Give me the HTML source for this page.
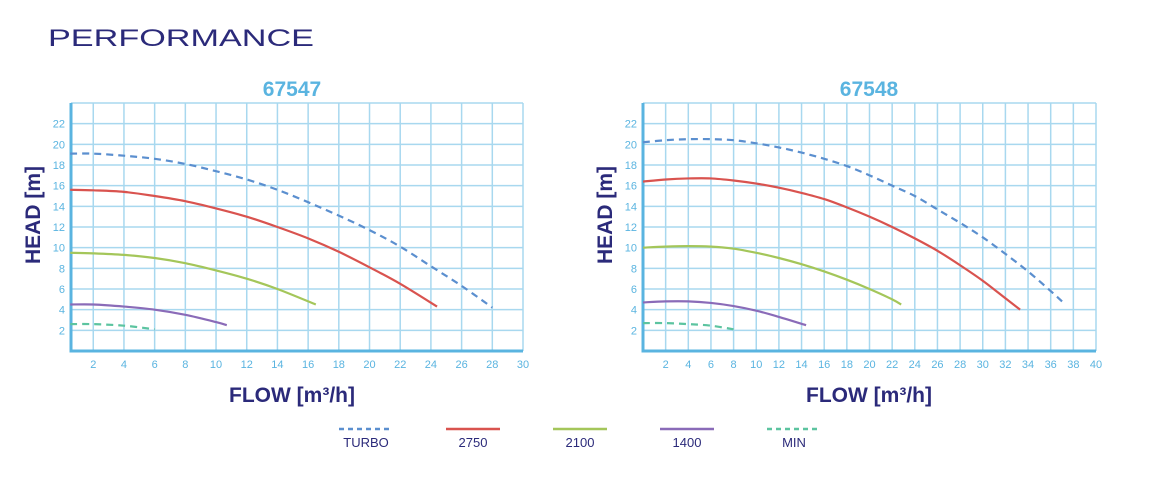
<!DOCTYPE html>
<html><head><meta charset="utf-8"><style>
html,body{margin:0;padding:0;background:#fff;}
svg{display:block;font-family:"Liberation Sans",sans-serif;}
</style></head><body>
<svg id="c" width="1153" height="480" viewBox="0 0 1153 480">
<text x="48" y="46" font-size="24" fill="#2b2a7a" textLength="266" lengthAdjust="spacingAndGlyphs">PERFORMANCE</text>
<g id="legend"></g>
</svg>
<script>
// ---- data ----
const xTicksA = [2,4,6,8,10,12,14,16,18,20,22,24,26,28,30];
const xTicksB = [2,4,6,8,10,12,14,16,18,20,22,24,26,28,30,32,34,36,38,40];
const yTicks = [2,4,6,8,10,12,14,16,18,20,22];
const seriesNames = ["TURBO","2750","2100","1400","MIN"];

const aTurboX=[0.5,2,4,6,8,10,12,14,16,18,20,22,24,26,28];
const aTurboY=[19.1,19.1,18.9,18.6,18.1,17.4,16.6,15.6,14.4,13.1,11.7,10.1,8.2,6.3,4.2];
const a2750X=[0.5,2,4,6,8,10,12,14,16,18,20,22,24.4];
const a2750Y=[15.6,15.55,15.4,15.0,14.5,13.8,13.0,12.0,10.9,9.6,8.1,6.5,4.3];
const a2100X=[0.5,2,4,6,8,10,12,14,16.5];
const a2100Y=[9.5,9.45,9.3,9.0,8.5,7.8,7.0,6.0,4.5];
const a1400X=[0.5,2,4,6,8,10,10.7];
const a1400Y=[4.5,4.5,4.3,4.0,3.5,2.8,2.5];
const aMinX=[0.5,2,4,6];
const aMinY=[2.6,2.6,2.45,2.1];

const bTurboX=[0,2,4,6,8,10,12,14,16,18,20,22,24,26,28,30,32,34,36,37.2];
const bTurboY=[20.2,20.4,20.5,20.5,20.4,20.1,19.7,19.2,18.6,17.9,17.0,16.0,15.0,13.7,12.4,11.0,9.4,7.7,5.8,4.6];
const b2750X=[0,2,4,6,8,10,12,14,16,18,20,22,24,26,28,30,32,33.3];
const b2750Y=[16.4,16.6,16.7,16.7,16.5,16.2,15.8,15.3,14.7,13.9,13.0,12.0,10.9,9.7,8.3,6.8,5.1,4.0];
const b2100X=[0,2,4,6,8,10,12,14,16,18,20,22,22.8];
const b2100Y=[10.0,10.1,10.15,10.1,9.9,9.5,9.0,8.4,7.7,6.9,6.0,5.0,4.5];
const b1400X=[0,2,4,6,8,10,12,14.4];
const b1400Y=[4.7,4.8,4.8,4.65,4.35,3.9,3.3,2.5];
const bMinX=[0,2,4,6,8];
const bMinY=[2.7,2.7,2.6,2.45,2.1];

// ---- drawing ----
const NS="http://www.w3.org/2000/svg";
const svg=document.getElementById('c');
const styles=[{c:"#5b8fcf",d:"7 5"},{c:"#d9534f",d:null},{c:"#a4c65a",d:null},{c:"#8a6bb8",d:null},{c:"#5cc4a0",d:"7 5"}];
function mk(tag,attrs,parent){const e=document.createElementNS(NS,tag);for(const k in attrs)e.setAttribute(k,attrs[k]);(parent||svg).appendChild(e);return e;}
function smooth(pts){let d="M"+pts[0][0]+","+pts[0][1];for(let i=0;i<pts.length-1;i++){const p0=pts[i-1]||pts[i],p1=pts[i],p2=pts[i+1],p3=pts[i+2]||p2;
const c1=[p1[0]+(p2[0]-p0[0])/6,p1[1]+(p2[1]-p0[1])/6],c2=[p2[0]-(p3[0]-p1[0])/6,p2[1]-(p3[1]-p1[1])/6];
d+=" C"+c1[0]+","+c1[1]+" "+c2[0]+","+c2[1]+" "+p2[0]+","+p2[1];}return d;}

function chart(id,title,L,R,x0,xMax,xTicks,series,cx){
  const T=103,B=351,yMax=24;
  const sx=v=>L+(v-x0)/(xMax-x0)*(R-L);
  const sy=v=>B-v/yMax*(B-T);
  const g=mk('g',{});
  
  
  const t=mk('text',{x:cx,y:96,'font-size':21,'font-weight':'bold',fill:'#5ab4e0','text-anchor':'middle'},g);t.textContent=title;
  
  xTicks.forEach(v=>{const ln=mk('line',{x1:sx(v),x2:sx(v),y1:T,y2:B,stroke:'#a8d8ef','stroke-width':1.5},g);
    
    const tx=mk('text',{x:sx(v),y:368,'font-size':11,fill:'#5ab4e0','text-anchor':'middle'},g);tx.textContent=v;
    });
  yTicks.concat([24]).forEach(v=>{const ln=mk('line',{x1:L,x2:R,y1:sy(v),y2:sy(v),stroke:'#a8d8ef','stroke-width':1.5},g);
    });
  yTicks.forEach(v=>{const tx=mk('text',{x:L-6,y:sy(v)+4,'font-size':11,fill:'#5ab4e0','text-anchor':'end'},g);tx.textContent=v;
    });
  const ax=mk('path',{d:`M${L},${T} V${B} H${R}`,fill:'none',stroke:'#5ab4e0','stroke-width':3},g);
  
  series.forEach((s,i)=>{const pts=s[0].map((x,j)=>[sx(x),sy(s[1][j])]);
    const p=mk('path',{d:smooth(pts),fill:'none',stroke:styles[i].c,'stroke-width':2.2},g);
    if(styles[i].d)p.setAttribute('stroke-dasharray',styles[i].d);
    });
  const yl=mk('text',{x:0,y:0,transform:`translate(${L-31},215) rotate(-90)`,'font-size':21,'font-weight':'bold',fill:'#2b2a7a','text-anchor':'middle'},g);yl.textContent='HEAD [m]';
  
  const xl=mk('text',{x:cx,y:402,'font-size':21,'font-weight':'bold',fill:'#2b2a7a','text-anchor':'middle'},g);xl.textContent='FLOW [m³/h]';
  
}
chart('chart-67547','67547',71,523,0.55,30,xTicksA,[[aTurboX,aTurboY],[a2750X,a2750Y],[a2100X,a2100Y],[a1400X,a1400Y],[aMinX,aMinY]],292);
chart('chart-67548','67548',643,1096,0,40,xTicksB,[[bTurboX,bTurboY],[b2750X,b2750Y],[b2100X,b2100Y],[b1400X,b1400Y],[bMinX,bMinY]],869);

const lg=document.getElementById('legend');
seriesNames.forEach((n,i)=>{const cx=366+i*107;
  const ln=mk('line',{x1:cx-27,x2:cx+27,y1:429,y2:429,stroke:styles[i].c,'stroke-width':2.5},lg);
  if(styles[i].d)ln.setAttribute('stroke-dasharray','5 4');
  
  const t=mk('text',{x:cx,y:447,'font-size':13,fill:'#2b2a7a','text-anchor':'middle'},lg);t.textContent=n;
  });
</script>
</body></html>
